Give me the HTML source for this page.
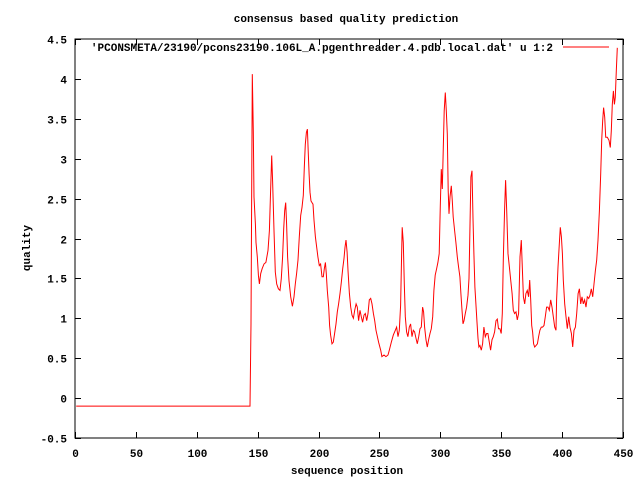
<!DOCTYPE html>
<html><head><meta charset="utf-8"><style>
html,body{margin:0;padding:0;background:#fff;}
svg text{font-family:"Liberation Mono","DejaVu Sans Mono",monospace;font-size:11px;fill:#000;font-weight:bold;}
</style></head><body>
<svg id="chart" width="640" height="480" viewBox="0 0 640 480" xmlns="http://www.w3.org/2000/svg">
<rect width="640" height="480" fill="#fff"/>
<text x="346" y="22" text-anchor="middle">consensus based quality prediction</text>
<text x="347" y="474" text-anchor="middle">sequence position</text>
<text transform="translate(30,248) rotate(-90)" text-anchor="middle">quality</text>
<g id="axes"></g>
<g id="series"></g>
<text x="553" y="51" text-anchor="end">'PCONSMETA/23190/pcons23190.106L_A.pgenthreader.4.pdb.local.dat' u 1:2</text>
<line x1="563" y1="47" x2="609" y2="47" stroke="#f00" stroke-width="1"/>
</svg>
<script>
const xTicks=[0,50,100,150,200,250,300,350,400,450];
const yTicks=[-0.5,0,0.5,1,1.5,2,2.5,3,3.5,4,4.5];
const positions=[1,143.7,144.5,145.6,146.4,147,148.1,148.6,149.7,150.6,151.4,152.5,153.6,155.2,156.8,158.5,159.6,160.7,161.5,162.3,163.4,164.5,165.6,167,168.3,169.4,170.5,171.4,172.2,173,173.8,174.6,175.7,177.1,178.5,179.8,180.9,182,183.1,184.2,185.3,186.4,187.5,188.3,189.1,190,190.8,191.3,192.2,193,193.8,194.6,195.4,196.3,197.4,198.5,199.5,200.6,201.7,202.8,203.9,204.7,205.6,206.4,207.2,208.3,209.1,209.9,211,212.1,213.2,214.3,215.4,216.5,217.6,218.7,219.8,220.9,221.7,222.5,223.4,224.2,225.3,226.4,227.5,228.6,229.7,230.8,231.8,232.9,234,235.1,236.2,237.3,238.4,239.5,240.6,241.7,242.8,243.9,245,246.1,247.2,248.3,249.3,251,252,253.7,255.3,257,258.1,259.7,261.4,263,264.1,265.2,266.3,267.4,268.2,268.7,269.6,270.4,271.2,272.3,273.4,274.5,275.6,276.7,277.8,278.9,280,281.1,282.2,283.3,284.4,285.4,286.3,287.1,288.2,289.3,290.4,291.5,292.6,293.7,294.7,295.8,296.9,298,299.1,300,300.8,301.6,302.4,303.2,304.1,304.9,305.7,306.5,307.1,307.9,309,309.8,310.6,311.7,312.8,313.9,315,316.1,316.9,317.7,318.6,319.4,320.5,321.6,322.7,323.5,324.3,325.1,326,326.8,327.6,328.4,329.2,330.1,330.9,331.7,332.5,333.6,334.7,335.8,336.9,338,339.1,340.2,341.3,342.4,343.5,344.6,345.7,346.8,347.8,348.9,350,350.9,351.7,352.8,353.6,354.5,355.6,356.7,357.8,358.9,359.9,361,362.1,363.2,364.3,365.4,366.5,367.3,368.2,369.3,370.3,371.4,372.5,373.4,374.2,375,375.8,376.6,377.5,378.6,379.7,380.7,381.8,382.9,384,385.1,386.2,387.3,388.4,389.5,390.6,391.7,392.8,393.9,395,395.5,396.6,397.7,398.5,399.4,400.2,401,402.1,403.2,404.3,405.4,406.5,407.6,408.7,409.8,410.9,412,413.1,414.2,415.3,416.3,417.4,418.5,419.6,420.7,421.8,422.9,424,425.1,426.2,427.3,428.4,429.5,430.6,431.7,432.5,433.3,434.1,435,435.8,437.1,438.5,439.6,440.4,441.2,442.1,442.9,443.7,444.5,445.3];
const quality=[-0.1,-0.1,0.93,4.06,3.35,2.52,2.18,1.95,1.77,1.54,1.43,1.56,1.62,1.68,1.70,1.85,2.10,2.64,3.04,2.72,2.10,1.58,1.43,1.37,1.35,1.50,1.77,2.12,2.35,2.45,2.18,1.77,1.47,1.27,1.15,1.27,1.43,1.56,1.73,2.02,2.29,2.39,2.54,2.89,3.18,3.33,3.37,3.16,2.81,2.58,2.47,2.45,2.43,2.23,2.02,1.89,1.77,1.66,1.68,1.52,1.52,1.62,1.70,1.56,1.35,1.14,0.91,0.79,0.68,0.70,0.81,0.93,1.08,1.18,1.31,1.45,1.62,1.75,1.89,1.98,1.83,1.60,1.31,1.14,1.04,1.0,1.10,1.18,1.14,0.97,1.10,1.02,0.95,1.04,1.06,0.97,1.06,1.23,1.25,1.18,1.06,0.97,0.85,0.77,0.70,0.60,0.52,0.54,0.52,0.54,0.60,0.70,0.79,0.85,0.89,0.77,0.85,1.16,1.79,2.14,1.95,1.43,1.02,0.83,0.77,0.89,0.93,0.77,0.85,0.83,0.75,0.68,0.77,0.87,0.89,1.14,1.08,0.89,0.73,0.64,0.73,0.81,0.87,1.02,1.35,1.54,1.62,1.70,1.81,2.41,2.87,2.62,3.14,3.60,3.83,3.60,3.31,2.60,2.31,2.52,2.66,2.47,2.27,2.10,1.95,1.77,1.64,1.52,1.31,1.12,0.93,0.97,1.06,1.14,1.29,1.50,2.10,2.77,2.85,2.25,1.81,1.39,1.18,0.95,0.75,0.64,0.66,0.60,0.68,0.89,0.77,0.81,0.81,0.70,0.60,0.73,0.77,0.83,0.97,0.99,0.87,0.87,0.81,1.06,1.73,2.37,2.73,2.35,1.81,1.64,1.48,1.31,1.10,1.06,1.08,0.98,1.06,1.77,1.98,1.64,1.27,1.18,1.31,1.35,1.27,1.48,1.23,0.91,0.83,0.68,0.64,0.66,0.68,0.77,0.85,0.89,0.89,0.91,1.02,1.14,1.14,1.10,1.23,1.14,1.02,0.89,0.85,1.23,1.64,1.93,2.14,2.02,1.81,1.48,1.18,1.02,0.87,1.02,0.89,0.81,0.64,0.85,0.89,1.06,1.31,1.37,1.18,1.27,1.18,1.23,1.14,1.27,1.25,1.29,1.37,1.27,1.43,1.60,1.73,1.98,2.35,2.81,3.23,3.48,3.64,3.52,3.27,3.27,3.23,3.14,3.35,3.68,3.85,3.68,3.77,4.10,4.39];

const L=75,R=623,T=39,B=438;
const xs=v=>L+(v-0)/(450-0)*(R-L);
const ys=v=>B-(v+0.5)/(4.5+0.5)*(B-T);
const NS="http://www.w3.org/2000/svg";
const axes=document.getElementById('axes');
function mk(tag,attrs,parent){const e=document.createElementNS(NS,tag);for(const k in attrs)e.setAttribute(k,attrs[k]);parent.appendChild(e);return e;}
const frame=mk('rect',{x:L,y:T,width:R-L,height:B-T,fill:'none',stroke:'#000','stroke-width':1,'shape-rendering':'crispEdges'},axes);


xTicks.forEach(t=>{
  const x=Math.round(xs(t))+0.5;
  const a=mk('line',{x1:x,y1:B,x2:x,y2:B-6,stroke:'#000'},axes);
  
  
  const b=mk('line',{x1:x,y1:T,x2:x,y2:T+6,stroke:'#000'},axes);
  
  
  const tx=mk('text',{x:x,y:B+19,'text-anchor':'middle'},axes);
  tx.textContent=String(t);
  
  
});
yTicks.forEach(t=>{
  const y=Math.round(ys(t))+0.5;
  const a=mk('line',{x1:L,y1:y,x2:L+6,y2:y,stroke:'#000'},axes);
  
  
  const b=mk('line',{x1:R,y1:y,x2:R-6,y2:y,stroke:'#000'},axes);
  
  
  const tx=mk('text',{x:67,y:y+4,'text-anchor':'end'},axes);
  tx.textContent=String(t);
  
  
});
const pts=positions.map((p,i)=>xs(p).toFixed(1)+','+ys(quality[i]).toFixed(1)).join(' ');
const line=mk('polyline',{points:pts,fill:'none',stroke:'#f00','stroke-width':1},document.getElementById('series'));


</script>
</body></html>
